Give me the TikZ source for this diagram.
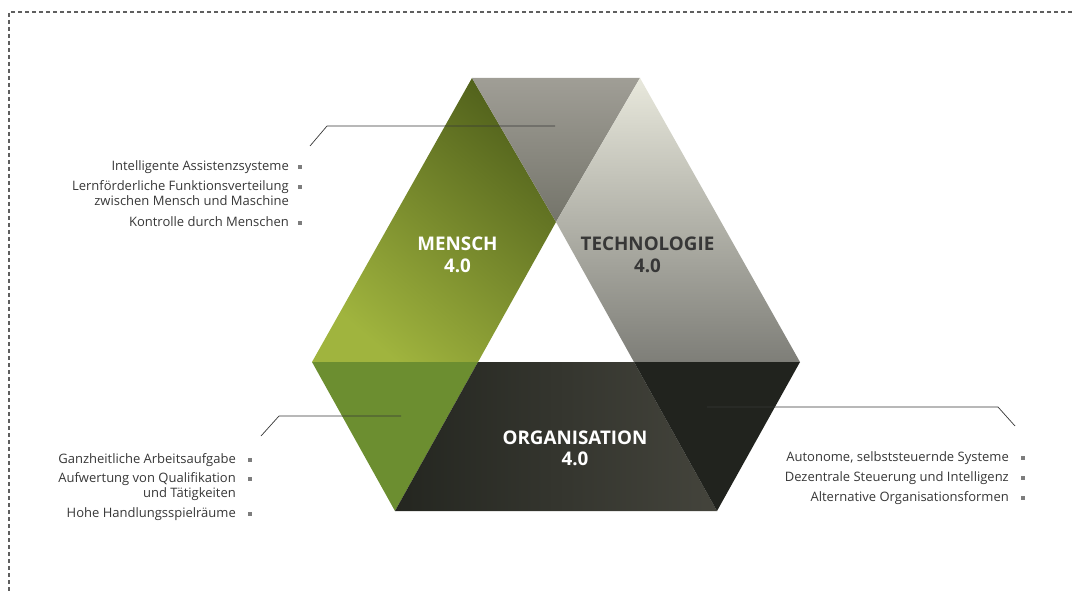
\documentclass[tikz,border=0pt]{standalone}
\usepackage{fontspec}
\setmainfont{Open Sans}
\usetikzlibrary{positioning}

\definecolor{txtgrey}{RGB}{55,55,55}
\definecolor{bulletgrey}{RGB}{125,125,125}
\definecolor{frame}{RGB}{95,95,95}
\definecolor{mlight}{RGB}{160,180,62}
\definecolor{mdark}{RGB}{82,98,28}
\definecolor{toplight}{RGB}{160,158,150}
\definecolor{topdark}{RGB}{116,116,106}
\definecolor{tlight}{RGB}{232,232,220}
\definecolor{tdark}{RGB}{126,126,120}
\definecolor{ogreen}{RGB}{108,142,48}
\definecolor{odark}{RGB}{36,38,32}
\definecolor{omid}{RGB}{68,68,60}
\definecolor{oblack}{RGB}{33,35,30}

\tikzset{
	item/.style={anchor=base east,inner sep=0pt,align=right,text=txtgrey,font=\fontsize{13}{15}\selectfont},
	bullet/.style={fill=bulletgrey,minimum size=4pt,inner sep=0pt},
	title/.style={inner sep=0pt,align=center,font=\fontsize{18.8}{21.7}\selectfont\bfseries},
	leader/.style={draw=txtgrey,line width=0.7pt}
}

\begin{document}
\begin{tikzpicture}[x=1pt,y=-1pt]
	
	\useasboundingbox (0,0) rectangle (1072,594);
	
	\draw[frame,line width=1.1pt,dash pattern=on 4pt off 3pt] (1072,12) -- (9,12) -- (9,594);
	
	\coordinate (tl) at (472,78);
	\coordinate (tr) at (640,78);
	\coordinate (r) at (800,362);
	\coordinate (br) at (717,511);
	\coordinate (bl) at (395,511);
	\coordinate (l) at (312,362);
	\coordinate (it) at (556,222);
	\coordinate (il) at (478,362);
	\coordinate (ir) at (634,362);
	
	\shade[top color=mdark,bottom color=mlight,shading angle=-40] (tl) -- (it) -- (il) -- (l) -- cycle;
	\shade[top color=toplight,bottom color=topdark] (tl) -- (tr) -- (it) -- cycle;
	\shade[top color=tlight,bottom color=tdark] (tr) -- (r) -- (ir) -- (it) -- cycle;
	\fill[ogreen] (l) -- (il) -- (bl) -- cycle;
	\shade[left color=odark,right color=omid] (il) -- (ir) -- (br) -- (bl) -- cycle;
	\fill[oblack] (ir) -- (r) -- (br) -- cycle;
	
	\node[title,text=white] (mensch) at (457.5,255) {MENSCH\\4.0};
	\node[title,text=txtgrey] (technik) at (647.5,255) {TECHNOLOGIE\\4.0};
	\node[title,text=white] (orga) at (575,448.3) {ORGANISATION\\4.0};
	
	\node[item] (m1) at (289,170) {Intelligente Assistenzsysteme};
	\node[item] (m2) at (289,205) {Lernförderliche Funktionsverteilung\\zwischen Mensch und Maschine};
	\node[item] (m3) at (289,226) {Kontrolle durch Menschen};
	\node[bullet] (mb1) at (300,166.5) {};
	\node[bullet] (mb2) at (300,186.5) {};
	\node[bullet] (mb3) at (300,222.5) {};
	
	\node[item] (o1) at (236,463.5) {Ganzheitliche Arbeitsaufgabe};
	\node[item] (o2) at (236,497) {Aufwertung von Qualifikation\\und Tätigkeiten};
	\node[item] (o3) at (236,517) {Hohe Handlungsspielräume};
	\node[bullet] (ob1) at (250,460) {};
	\node[bullet] (ob2) at (250,478.5) {};
	\node[bullet] (ob3) at (250,513.5) {};
	
	\node[item] (t1) at (1009,461.5) {Autonome, selbststeuernde Systeme};
	\node[item] (t2) at (1009,481.5) {Dezentrale Steuerung und Intelligenz};
	\node[item] (t3) at (1009,501.5) {Alternative Organisationsformen};
	\node[bullet] (tb1) at (1023,458) {};
	\node[bullet] (tb2) at (1023,478) {};
	\node[bullet] (tb3) at (1023,498) {};
	
	\coordinate (ma) at (310,146);
	\coordinate (mk) at (327,126);
	\coordinate (mz) at (555,126);
	\draw[leader] (ma) -- (mk) -- (mz);
	
	\coordinate (oa) at (261,436);
	\coordinate (ok) at (279,416);
	\coordinate (oz) at (401,416);
	\draw[leader] (oa) -- (ok) -- (oz);
	
	\coordinate (ta) at (1015,426);
	\coordinate (tk) at (998,407);
	\coordinate (tz) at (707,407);
	\draw[leader] (ta) -- (tk) -- (tz);
	
\end{tikzpicture}
\end{document}
